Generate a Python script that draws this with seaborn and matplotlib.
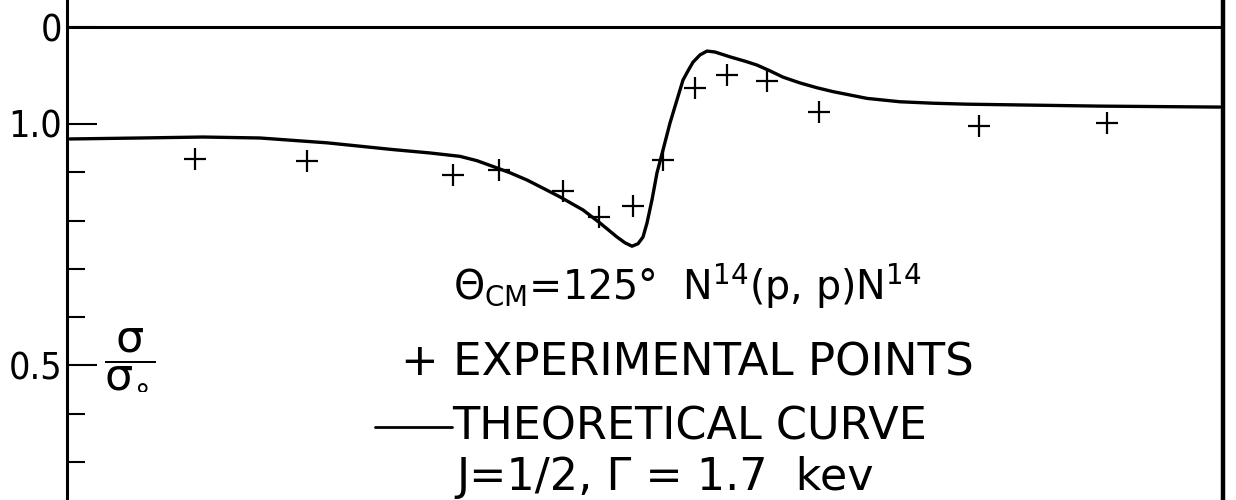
import matplotlib
matplotlib.use("Agg")
import matplotlib.pyplot as plt
from matplotlib.lines import Line2D
import seaborn as sns
import pandas as pd

# Relative proton energy (keV) and measured cross-section ratio sigma/sigma_0
exp_energy = [6.4, 12.0, 19.3, 21.6, 24.8, 26.6, 28.3, 29.8, 31.4, 33.0, 35.0, 37.6, 45.6, 52.0]
exp_ratio = [0.928, 0.923, 0.894, 0.905, 0.861, 0.807, 0.830, 0.925, 1.075, 1.101, 1.089, 1.025, 0.996, 1.002]

# Theoretical curve (J=1/2, Gamma=1.7 keV)
theory_energy = [0.15, 3.65, 6.8, 9.65, 13.0, 16.3, 18.15, 19.65, 20.5, 21.3, 22.15, 23.0, 23.9,
                 24.65, 25.8, 26.65, 27.5, 27.9, 28.25, 28.55, 28.8, 29.0, 29.25, 29.5, 29.8,
                 30.15, 30.5, 30.8, 31.05, 31.3, 31.65, 32.0, 32.4, 33.15, 33.9, 34.5, 35.15,
                 35.8, 36.65, 37.5, 38.3, 39.15, 40.0, 41.65, 43.3, 45.0, 48.3, 51.65, 57.65]
theory_ratio = [0.969, 0.971, 0.973, 0.971, 0.961, 0.947, 0.940, 0.933, 0.924, 0.912, 0.899, 0.884, 0.865,
                0.849, 0.822, 0.795, 0.766, 0.754, 0.747, 0.752, 0.766, 0.795, 0.843, 0.899, 0.946,
                1.002, 1.050, 1.091, 1.110, 1.128, 1.143, 1.151, 1.149, 1.139, 1.130, 1.122, 1.110,
                1.097, 1.085, 1.075, 1.067, 1.060, 1.053, 1.046, 1.043, 1.041, 1.039, 1.037, 1.035]

major_ticks = [0.5, 1.0, 1.2]
major_labels = ["0.5", "1.0", "0"]
minor_ticks = [0.3, 0.4, 0.6, 0.7, 0.8, 0.9]

sns.set_style("white")
plt.rcParams["font.family"] = ["DejaVu Sans"]
plt.rcParams["mathtext.fontset"] = "dejavusans"
plt.rcParams["text.color"] = "black"
plt.rcParams["ytick.color"] = "black"
plt.rcParams["axes.labelcolor"] = "black"

W, H = 1236, 500
fig = plt.figure(figsize=(W / 100, H / 100), dpi=100)
ax = fig.add_axes([67 / W, 0.0, (1223 - 67) / W, 1.0])

def fx(px):
    return px / W

def fy(py):
    return 1 - py / H

theory = pd.DataFrame({"energy": theory_energy, "ratio": theory_ratio})
points = pd.DataFrame({"energy": exp_energy, "ratio": exp_ratio})

sns.lineplot(data=theory, x="energy", y="ratio", estimator=None, sort=False,
             color="black", linewidth=2.4, ax=ax)
sns.scatterplot(data=points, x="energy", y="ratio", marker="+", s=230,
                color="black", linewidth=1.6, ax=ax, zorder=3)

ax.axhline(1.2, color="black", linewidth=2.2)

ax.set_xlim(0, 57.8)
ax.set_ylim(0.2215, 1.2567)
ax.set_xlabel("")
ax.set_ylabel("")
ax.set_xticks([])

ax.set_yticks(major_ticks)
ax.set_yticklabels(major_labels)
ax.set_yticks(minor_ticks, minor=True)
ax.tick_params(axis="y", which="major", direction="in", length=21.5, width=1.5,
               pad=3.5, labelsize=27, left=True, colors="black")
ax.tick_params(axis="y", which="minor", direction="in", length=13, width=1.5, left=True,
               colors="black")
for lab in ax.get_yticklabels():
    lab.set_fontstretch("condensed")

for side in ("top", "bottom"):
    ax.spines[side].set_visible(False)
ax.spines["left"].set_linewidth(2.2)
ax.spines["right"].set_linewidth(3.2)
for side in ("left", "right"):
    ax.spines[side].set_color("black")

# y-axis quantity
fig.text(fx(130), fy(359), r"$\dfrac{\mathrm{\sigma}}{\mathrm{\sigma}_{\circ}}$",
         fontsize=32, ha="center", va="center")

# Annotation block
fig.text(fx(453), fy(300), r"$\Theta_{\mathrm{CM}}$=125°  N$^{14}$(p, p)N$^{14}$",
         fontsize=28.5, ha="left", va="baseline")
fig.text(fx(401), fy(376), "+ EXPERIMENTAL POINTS", fontsize=32.5, ha="left", va="baseline")
fig.add_artist(Line2D([fx(375), fx(452)], [fy(427), fy(427)], color="black",
                      linewidth=2.0, transform=fig.transFigure))
fig.text(fx(452), fy(440), "THEORETICAL CURVE", fontsize=32, ha="left", va="baseline")
fig.text(fx(456), fy(490), "J=1/2, Γ = 1.7  kev", fontsize=32, ha="left", va="baseline")

fig.savefig("out.png", dpi=100, facecolor="white")
